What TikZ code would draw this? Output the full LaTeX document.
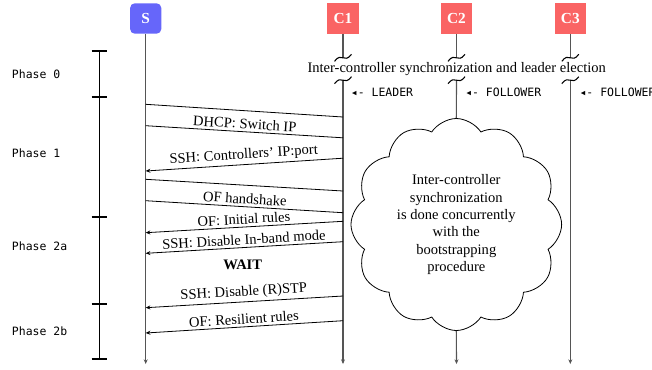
\documentclass[tikz,border=0pt]{standalone}
\usepackage{fontspec}
\setmainfont{Liberation Serif}
\setmonofont{DejaVu Sans Mono}
\usetikzlibrary{shapes.symbols,arrows.meta}

\definecolor{swblue}{RGB}{102,102,250}
\definecolor{ctrlred}{RGB}{250,100,100}
\definecolor{lifegray}{RGB}{85,85,85}

\begin{document}
\begin{tikzpicture}[x=0.75pt,y=-0.75pt,
  font=\fontsize{10.9}{13}\selectfont,
  actor/.style={minimum width=23.4pt,minimum height=22.8pt,inner sep=0pt,
    text=white,font=\fontsize{11.5}{13}\selectfont\bfseries},
  switchbox/.style={actor,fill=swblue,rounded corners=3.5pt},
  ctrlbox/.style={actor,fill=ctrlred},
  lifeline/.style={draw=lifegray,line width=0.85pt},
  lifeend/.style={lifeline,-{Stealth[length=3.5pt,width=3pt]}},
  msg/.style={draw=black,line width=0.6pt},
  reply/.style={msg,-{Stealth[length=3.5pt,width=3pt]}},
  msglabel/.style={sloped,above,inner sep=1.8pt},
  monotext/.style={font=\ttfamily\fontsize{8.6}{10}\selectfont,anchor=west,inner sep=0pt},
  timeline/.style={line width=0.9pt},
  tickmark/.style={line width=1.4pt},
  brk/.pic={\draw[black,line width=0.8pt] (-8.5,3.5) .. controls (-1,-6.5) and (1,6.5) .. (8.5,-3.5);},
]
\useasboundingbox (0,0) rectangle (652,369);

% actors
\node[switchbox] (S)  at (145.7,18.5) {S};
\node[ctrlbox]   (C1) at (343,18.5)   {C1};
\node[ctrlbox]   (C2) at (456.5,18.5) {C2};
\node[ctrlbox]   (C3) at (570.3,18.5) {C3};

% phase 0 banner
\node[inner sep=0pt] (sync) at (456.7,69.3) {Inter-controller synchronization and leader election};

% lifeline break points and ends
\foreach \c/\x in {C1/343,C2/456.5,C3/570.3}{
  \coordinate (\c top) at (\x,57.8);
  \coordinate (\c bot) at (\x,80.2);
}
\coordinate (Send)  at (145.7,364);
\coordinate (C1end) at (343,364);
\coordinate (C2end) at (456.5,364);
\coordinate (C3end) at (570.3,364);

% concurrent synchronization cloud
\node[cloud,draw,line width=0.6pt,cloud puffs=12,cloud puff arc=115,aspect=1,
      minimum width=158pt,minimum height=159pt,align=center,inner sep=1pt]
  (cloud) at (456.3,224.5)
  {Inter-controller\\synchronization\\is done concurrently\\with the\\bootstrapping\\procedure};

% lifelines
\draw[lifeend] (S) -- (Send);
\draw[lifeline] (C1) -- (C1top);
\draw[lifeline] (C2) -- (C2top);
\draw[lifeline] (C3) -- (C3top);
\draw[lifeend] (C1bot) -- (C1end);
\draw[lifeline] (C2bot) -- (cloud.north);
\draw[lifeend] (cloud.south) -- (C2end);
\draw[lifeend] (C3bot) -- (C3end);
\foreach \c in {C1,C2,C3}{
  \pic at (\c top) {brk};
  \pic at (\c bot) {brk};
}

% roles after election
\node[monotext] (lead)  at (350.7,92.3) {◂- LEADER};
\node[monotext] (foll2) at (465,92.3)   {◂- FOLLOWER};
\node[monotext] (foll3) at (579.3,92.3) {◂- FOLLOWER};

% message endpoints
\coordinate (m1s) at (145.7,104.3); \coordinate (m1c) at (343,117);
\coordinate (m2s) at (145.7,125.7); \coordinate (m2c) at (343,137.8);
\coordinate (m3c) at (343,158.2);   \coordinate (m3s) at (145.7,171);
\coordinate (m4s) at (145.7,179.3); \coordinate (m4c) at (343,191);
\coordinate (m5s) at (145.7,200.7); \coordinate (m5c) at (343,212.7);
\coordinate (m6c) at (343,221.3);   \coordinate (m6s) at (145.7,232.7);
\coordinate (m7c) at (343,241.7);   \coordinate (m7s) at (145.7,253.3);
\coordinate (m8c) at (343,296);     \coordinate (m8s) at (145.7,307.7);
\coordinate (m9c) at (343,320.7);   \coordinate (m9s) at (145.7,333);

% messages
\draw[msg] (m1s) -- (m1c);
\draw[msg] (m2s) -- node[msglabel] (l2) {DHCP: Switch IP} (m2c);
\draw[reply] (m3c) -- node[msglabel] (l3) {SSH: Controllers’ IP:port} (m3s);
\draw[msg] (m4s) -- (m4c);
\draw[msg] (m5s) -- node[msglabel] (l5) {OF handshake} (m5c);
\draw[reply] (m6c) -- node[msglabel] (l6) {OF: Initial rules} (m6s);
\draw[reply] (m7c) -- node[msglabel] (l7) {SSH: Disable In-band mode} (m7s);
\node[font=\fontsize{10.9}{13}\selectfont\bfseries] (wait) at (242.7,265) {WAIT};
\draw[reply] (m8c) -- node[msglabel] (l8) {SSH: Disable (R)STP} (m8s);
\draw[reply] (m9c) -- node[msglabel] (l9) {OF: Resilient rules} (m9s);

% phase timeline
\draw[timeline] (99.3,51) -- (99.3,359);
\foreach \y in {51,96.7,217.3,304.3,359}{
  \draw[tickmark] (91.7,\y) -- (107.3,\y);
}
\node[monotext] (p0)  at (11.7,74.7)  {Phase 0};
\node[monotext] (p1)  at (11.7,153.7) {Phase 1};
\node[monotext] (p2a) at (11.7,246.7) {Phase 2a};
\node[monotext] (p2b) at (11.7,331.7) {Phase 2b};
\end{tikzpicture}
\end{document}
